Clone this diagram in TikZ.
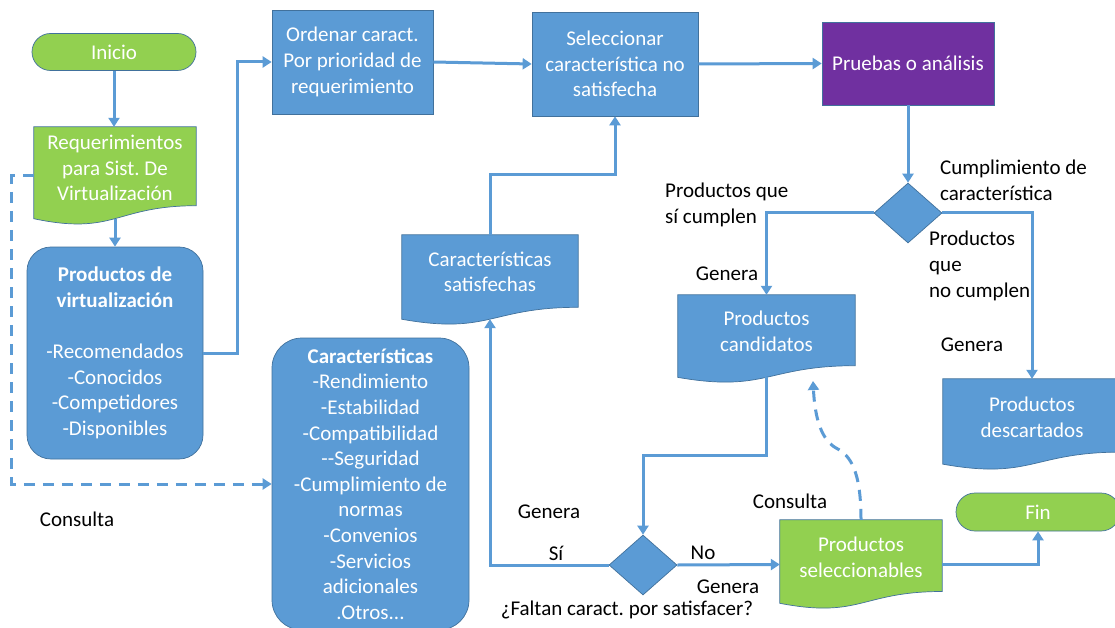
\documentclass[tikz,border=0pt]{standalone}
\usepackage{fontspec}
\setmainfont{Carlito}
\frenchspacing
\usetikzlibrary{shapes.geometric,shapes.misc,arrows.meta,calc}
\definecolor{boxblue}{HTML}{5B9BD5}
\definecolor{boxline}{HTML}{41719C}
\definecolor{boxgreen}{HTML}{92D050}
\definecolor{boxpurple}{HTML}{7030A0}
\definecolor{linkblue}{HTML}{5B9BD5}

% document symbol with a wavy lower edge, drawn around an invisible box node
\newcommand\docpath[2]{%
  \filldraw[fill=#2, draw=boxline, line width=0.7pt]
    (#1.north west) -- (#1.north east)
    -- ($(#1.north east)!0.802!(#1.south east)$)
    .. controls ($(#1.north)!0.802!(#1.south)$) and ($(#1.north)!1.108!(#1.south)$)
    .. ($(#1.north west)!0.934!(#1.south west)$) -- cycle;
  \coordinate (#1-b) at ($(#1.north)!0.933!(#1.south)$);
}

\begin{document}
\begin{tikzpicture}[x=1pt,y=-1pt,
  every node/.style={font=\fontsize{21}{25.6}\selectfont, inner sep=0pt},
  shapebase/.style={draw=boxline, line width=0.7pt, text=white, align=center},
  procbox/.style={shapebase, rectangle, fill=boxblue},
  termbox/.style={shapebase, rounded rectangle},
  decision/.style={shapebase, diamond, fill=boxblue, minimum width=68pt, minimum height=60pt},
  docbox/.style={rectangle},
  whitetext/.style={text=white, align=center},
  lbl/.style={text=black},
  link/.style={draw=linkblue, line width=3pt, -{Triangle[width=11pt,length=9pt]}},
  dlink/.style={link, dash pattern=on 11pt off 8pt}
]
\fill[white] (0,0) rectangle (1115,628);
\useasboundingbox (0,0) rectangle (1115,628);

% left column
\node[termbox, fill=boxgreen, minimum width=164pt, minimum height=37pt] (inicio) at (114,52) {Inicio};
\node[docbox, minimum width=162pt, minimum height=98pt] (req) at (115,176) {};
\docpath{req}{boxgreen}
\node[whitetext] (req-t) at (115,168) {Requerimientos\\para Sist. De\\Virtualización};
\node[procbox, rounded corners=24pt, minimum width=176pt, minimum height=212pt] (pv) at (115,353)
  {\textbf{Productos de}\\\textbf{virtualización}\\\strut\\-Recomendados\\-Conocidos\\-Competidores\\-Disponibles};

% top row
\node[procbox, minimum width=161pt, minimum height=104pt] (ord) at (352.5,62) {Ordenar caract.\\Por prioridad de\\requerimiento};
\node[procbox, minimum width=166pt, minimum height=104pt] (sel) at (615,64) {Seleccionar\\característica no\\satisfecha};
\node[procbox, fill=boxpurple, minimum width=172pt, minimum height=83pt] (pru) at (908,63.5) {Pruebas o análisis};
\node[decision] (d1) at (908,213) {};

% middle
\node[docbox, minimum width=176pt, minimum height=90pt] (sat) at (490,280) {};
\docpath{sat}{boxblue}
\node[whitetext] (sat-t) at (490,272) {Características\\satisfechas};
\node[procbox, rounded corners=30pt, minimum width=197pt, minimum height=292pt] (car) at (370.5,484)
  {\textbf{Características}\\-Rendimiento\\-Estabilidad\\-Compatibilidad\\-{}-Seguridad\\-Cumplimiento de\\normas\\-Convenios\\-Servicios\\adicionales\\.Otros...};

\node[docbox, minimum width=177pt, minimum height=88pt] (cand) at (766.5,339) {};
\docpath{cand}{boxblue}
\node[whitetext] (cand-t) at (766.5,331) {Productos\\candidatos};

\node[docbox, minimum width=178pt, minimum height=91pt] (desc) at (1032,424.5) {};
\docpath{desc}{boxblue}
\node[whitetext] (desc-t) at (1032,417) {Productos\\descartados};

\node[docbox, minimum width=162pt, minimum height=89pt] (selp) at (861,564.5) {};
\docpath{selp}{boxgreen}
\node[whitetext] (selp-t) at (861,557) {Productos\\seleccionables};

\node[decision] (d2) at (643,565) {};
\node[termbox, fill=boxgreen, minimum width=164pt, minimum height=38pt] (fin) at (1038,512) {Fin};

% labels
\node[lbl] (l-consulta1) at (77,519) {Consulta};
\node[lbl, anchor=west, align=left] (l-cumpl) at (940,180) {Cumplimiento de\\característica};
\node[lbl, anchor=west, align=left] (l-sicumplen) at (665,205) {Productos que\\sí cumplen};
\node[lbl] (l-gen1) at (727,274) {Genera};
\node[lbl, anchor=west, align=left] (l-nocumplen) at (929,266) {Productos\\que\\no cumplen};
\node[lbl] (l-gen2) at (972,345) {Genera};
\node[lbl] (l-consulta2) at (790,501) {Consulta};
\node[lbl] (l-gen3) at (549,512) {Genera};
\node[lbl] (l-si) at (556,553) {Sí};
\node[lbl] (l-no) at (703,553) {No};
\node[lbl] (l-gen4) at (728,587) {Genera};
\node[lbl] (l-faltan) at (627,610) {¿Faltan caract. por satisfacer?};

% connectors
\draw[link] (inicio.south) -- (inicio.south |- req.north);
\draw[link] (req-b) -- (req-b |- pv.north);
\draw[link] (pv.east) -- ++(34,0) |- (ord.west);
\draw[link] (ord.east) -- (sel.west);
\draw[link] (sel.east) -- (pru.west);
\draw[link] (pru.south) -- (d1.north);
\draw[link] (d1.west) -| (cand.north);
\draw[link] (d1.east) -| (desc.north);
\draw[link] (cand-b) -- ++(0,78) -| (d2.north);
\draw[link] (d2.west) -| (sat-b);
\draw[link] (sat.north) -- ++(0,-60) -| (sel.south);
\draw[link] (d2.east) -- (selp.west);
\draw[link] (selp.east) -| (fin.south);
\draw[dlink] (req.west) -- ++(-22,0) |- (car.west);
\coordinate (cons-end) at (813,381);
\draw[dlink] (selp.north) .. controls (861,470) and (850,455) .. (836,448)
  .. controls (822,440) and (815,420) .. (cons-end);
\end{tikzpicture}
\end{document}
